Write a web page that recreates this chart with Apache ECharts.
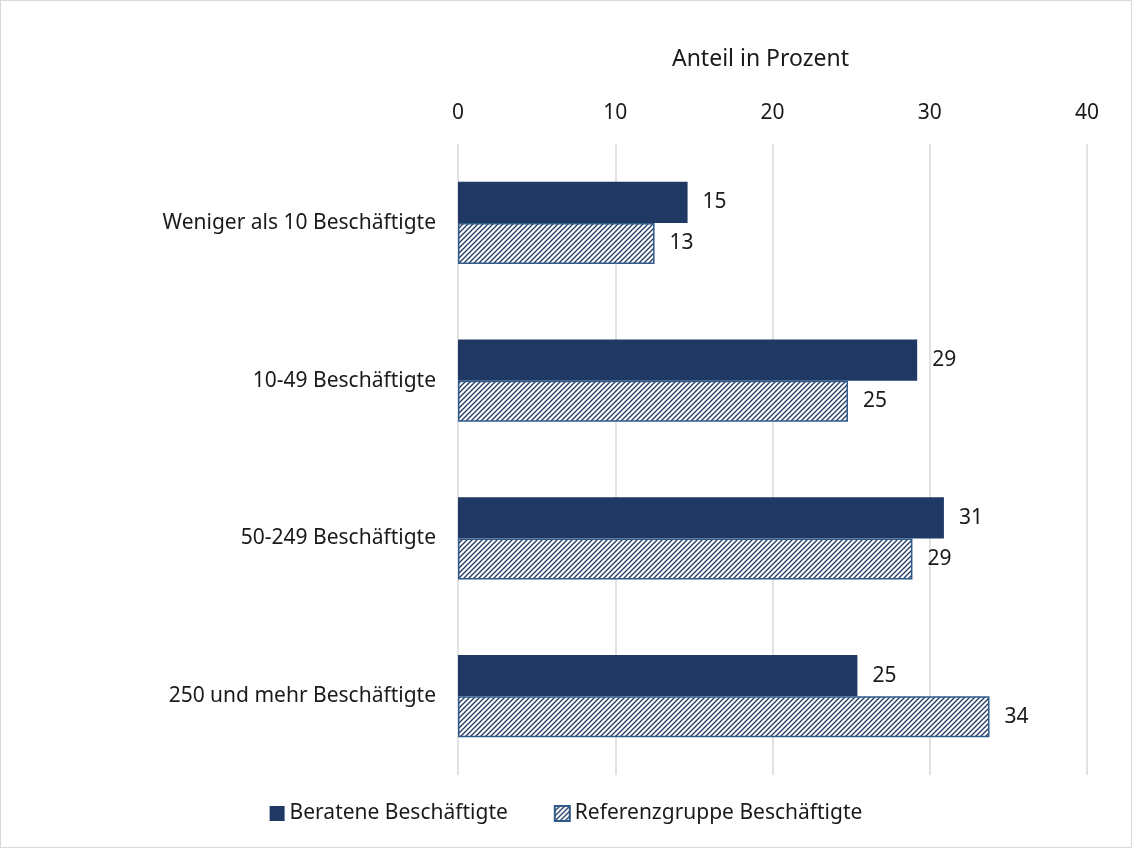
<!DOCTYPE html>
<html>
<head>
<meta charset="utf-8">
<script src="https://cdn.jsdelivr.net/npm/echarts@6/dist/echarts.min.js"></script>
<style>
  html, body { margin: 0; padding: 0; background: #fff; }
  #chart { width: 1130px; height: 846px; border: 1px solid #d9d9d9; }
</style>
</head>
<body>
<div id="chart"></div>
<script>
// Daten
const categories = ['Weniger als 10 Beschäftigte', '10-49 Beschäftigte', '50-249 Beschäftigte', '250 und mehr Beschäftigte']
const beratene = [14.6, 29.2, 30.9, 25.4]
const referenz = [12.5, 24.8, 28.9, 33.8]
const seriesNames = ['Beratene Beschäftigte', 'Referenzgruppe Beschäftigte']

const font = '"Noto Sans", sans-serif'
const dark = '#203864'

// Schraffur als Canvas-Muster
function hatch() {
  const c = document.createElement('canvas')
  c.width = 5
  c.height = 5
  const ctx = c.getContext('2d')
  ctx.fillStyle = '#fff'
  ctx.fillRect(0, 0, 5, 5)
  ctx.strokeStyle = dark
  ctx.lineWidth = 1.3
  ctx.beginPath()
  ctx.moveTo(-1, 6); ctx.lineTo(6, -1)
  ctx.moveTo(-1, 1); ctx.lineTo(1, -1)
  ctx.moveTo(4, 6); ctx.lineTo(6, 4)
  ctx.stroke()
  return c
}

const chart = echarts.init(document.getElementById('chart'))

const label = {
  show: true,
  position: 'right',
  distance: 15,
  color: '#1a1a1a',
  fontSize: 21,
  fontFamily: font,
  formatter: p => Math.round(p.value)
}

chart.setOption({
  animation: false,
  textStyle: { fontFamily: font },
  grid: { left: 457, right: 44, top: 143, bottom: 72 },
  legend: {
    bottom: 18,
    left: 'center',
    icon: 'rect',
    itemWidth: 15,
    itemHeight: 15,
    itemGap: 46,
    textStyle: { fontSize: 21, color: '#1a1a1a', fontFamily: font },
    data: seriesNames
  },
  xAxis: {
    type: 'value',
    position: 'top',
    min: 0,
    max: 40,
    interval: 10,
    name: 'Anteil in Prozent',
    nameLocation: 'middle',
    nameGap: 73,
    nameTextStyle: { fontSize: 23, color: '#1a1a1a', fontFamily: font, padding: [0, 24, 0, 0] },
    axisLine: { show: false },
    axisTick: { show: false },
    axisLabel: { fontSize: 21, color: '#1a1a1a', margin: 20, fontFamily: font },
    splitLine: { lineStyle: { color: '#d9d9d9', width: 1.5 } }
  },
  yAxis: {
    type: 'category',
    inverse: true,
    data: categories,
    axisLine: { show: false },
    axisTick: { show: false },
    axisLabel: { fontSize: 21, color: '#1a1a1a', margin: 22, fontFamily: font }
  },
  series: [
    {
      name: seriesNames[0],
      type: 'bar',
      data: beratene,
      barGap: '0%',
      barCategoryGap: '48%',
      itemStyle: { color: dark },
      label: label
    },
    {
      name: seriesNames[1],
      type: 'bar',
      data: referenz,
      itemStyle: { color: { image: hatch(), repeat: 'repeat' }, borderColor: '#2f5a8a', borderWidth: 1.5 },
      label: label
    }
  ]
})
</script>
</body>
</html>
